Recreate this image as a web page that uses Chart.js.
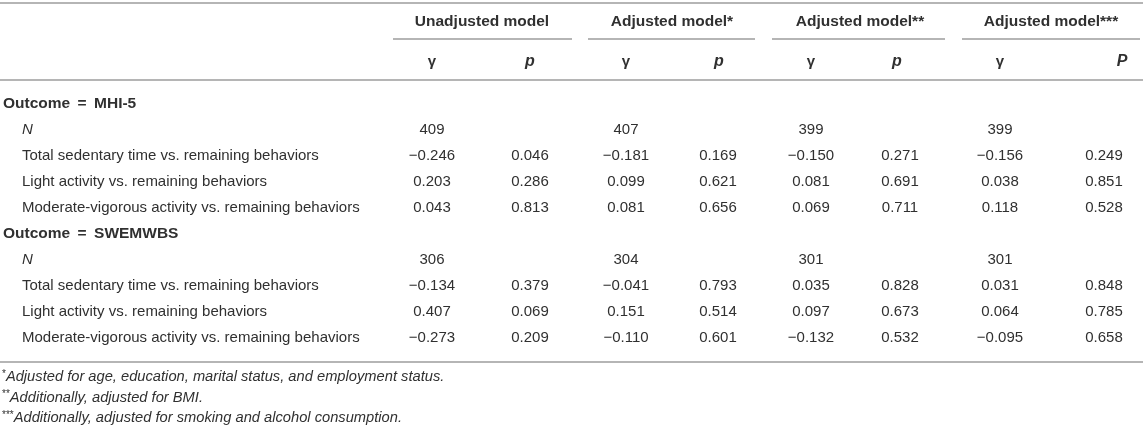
<!DOCTYPE html>
<html>
<head>
<meta charset="utf-8">
<script src="https://cdn.jsdelivr.net/npm/chart.js@4.4.1/dist/chart.umd.min.js"></script>
<style>
    html, body { margin: 0; padding: 0; background: #fff; }
    canvas { display: block; }
</style>
</head>
<body>
<canvas id="table-chart" width="1143" height="429"></canvas>
<script>
    // table content
    var models = ['Unadjusted model', 'Adjusted model*', 'Adjusted model**', 'Adjusted model***'];
    var statHeaders = ['γ', 'p', 'γ', 'p', 'γ', 'p', 'γ', 'P'];
    var outcomes = ['Outcome = MHI-5', 'Outcome = SWEMWBS'];
    var behaviors = [
        'Total sedentary time vs. remaining behaviors',
        'Light activity vs. remaining behaviors',
        'Moderate-vigorous activity vs. remaining behaviors'
    ];

    var mhiN = [409, 407, 399, 399];
    var mhiGamma = [
        [-0.246, -0.181, -0.150, -0.156],
        [0.203, 0.099, 0.081, 0.038],
        [0.043, 0.081, 0.069, 0.118]
    ];
    var mhiP = [
        [0.046, 0.169, 0.271, 0.249],
        [0.286, 0.621, 0.691, 0.851],
        [0.813, 0.656, 0.711, 0.528]
    ];

    var swemwbsN = [306, 304, 301, 301];
    var swemwbsGamma = [
        [-0.134, -0.041, 0.035, 0.031],
        [0.407, 0.151, 0.097, 0.064],
        [-0.273, -0.110, -0.132, -0.095]
    ];
    var swemwbsP = [
        [0.379, 0.793, 0.828, 0.848],
        [0.069, 0.514, 0.673, 0.785],
        [0.209, 0.601, 0.532, 0.658]
    ];

    var footnoteMarks = ['*', '**', '***'];
    var footnotes = [
        'Adjusted for age, education, marital status, and employment status.',
        'Additionally, adjusted for BMI.',
        'Additionally, adjusted for smoking and alcohol consumption.'
    ];

    // layout (x/y scales run in canvas units)
    var gammaX = [432, 626, 811, 1000];
    var pX = [530, 718, 900, 1104];
    var pHeadX = [530, 719, 897, 1122];
    var modelX = [482, 672, 860, 1051];
    var underlines = [[393, 572], [588, 755], [772, 945], [962, 1140]];
    var rules = [3, 80, 362];
    var rowStart = 104, rowStep = 26;
    var fontFamily = "'Liberation Sans', Arial, Helvetica, sans-serif";
    var textColor = '#303030';
    var ruleColor = '#b5b5b5';

    function fmt(v) {
        return v < 0 ? '\u2212' + (-v).toFixed(3) : v.toFixed(3);
    }

    // flatten the body rows
    var bodyRows = [];
    [[mhiN, mhiGamma, mhiP], [swemwbsN, swemwbsGamma, swemwbsP]].forEach(function(block, b) {
        bodyRows.push({ label: outcomes[b], kind: 'outcome', gamma: [], p: [] });
        bodyRows.push({ label: 'N', kind: 'n', gamma: block[0].map(String), p: [] });
        behaviors.forEach(function(name, r) {
            bodyRows.push({ label: name, kind: 'row', gamma: block[1][r].map(fmt), p: block[2][r].map(fmt) });
        });
    });

    function rowY(i) { return rowStart + rowStep * i; }

    var datasets = [];

    // horizontal rules
    rules.forEach(function(y) {
        datasets.push({ type: 'line', data: [{ x: 0, y: y }, { x: 1143, y: y }],
            borderColor: ruleColor, borderWidth: 2, pointRadius: 0 });
    });
    underlines.forEach(function(seg) {
        datasets.push({ type: 'line', data: [{ x: seg[0], y: 39 }, { x: seg[1], y: 39 }],
            borderColor: ruleColor, borderWidth: 2, pointRadius: 0 });
    });

    function textSet(points, texts, font, align, marks) {
        datasets.push({ type: 'scatter', data: points, texts: texts, font: font, align: align,
            marks: marks, pointRadius: 0, borderWidth: 0 });
    }

    // header rows
    textSet(modelX.map(function(x) { return { x: x, y: 22 }; }), models, 'bold 15.5px ' + fontFamily, 'center');
    var headPts = [], headTexts = [];
    gammaX.forEach(function(x, m) {
        headPts.push({ x: x, y: 62 }, { x: pHeadX[m], y: 62 });
        headTexts.push(statHeaders[m * 2], statHeaders[m * 2 + 1]);
    });
    textSet(headPts, headTexts, headTexts.map(function(t) {
        return (t === 'γ' ? 'bold 15px ' : 'italic bold 16px ') + fontFamily;
    }), 'center');

    // row labels
    textSet(bodyRows.map(function(r, i) { return { x: r.kind === 'outcome' ? 3 : 22, y: rowY(i) }; }),
        bodyRows.map(function(r) { return r.label.replace(' = ', ' \u2009=\u2009 '); }),
        bodyRows.map(function(r) {
            return (r.kind === 'outcome' ? 'bold 15.5px ' : r.kind === 'n' ? 'italic 15px ' : '15px ') + fontFamily;
        }), 'left');

    // value columns
    gammaX.forEach(function(x, m) {
        var pts = [], texts = [];
        bodyRows.forEach(function(r, i) {
            if (r.gamma[m] !== undefined) { pts.push({ x: x, y: rowY(i) }); texts.push(r.gamma[m]); }
        });
        textSet(pts, texts, '15px ' + fontFamily, 'center');
    });
    pX.forEach(function(x, m) {
        var pts = [], texts = [];
        bodyRows.forEach(function(r, i) {
            if (r.p[m] !== undefined) { pts.push({ x: x, y: rowY(i) }); texts.push(r.p[m]); }
        });
        textSet(pts, texts, '15px ' + fontFamily, 'center');
    });

    // footnotes, with small raised asterisks
    textSet(footnotes.map(function(t, i) { return { x: 2, y: 377 + 20.5 * i }; }), footnotes,
        'italic 14.7px ' + fontFamily, 'left', footnoteMarks);

    var cellTextPlugin = {
        id: 'cellText',
        afterDatasetsDraw: function(chart) {
            var ctx = chart.ctx;
            ctx.save();
            ctx.fillStyle = textColor;
            ctx.textBaseline = 'middle';
            chart.data.datasets.forEach(function(ds, i) {
                if (!ds.texts) return;
                var meta = chart.getDatasetMeta(i);
                ctx.textAlign = ds.align;
                meta.data.forEach(function(pt, j) {
                    var x = pt.x;
                    if (ds.marks) {
                        ctx.font = '10px ' + fontFamily;
                        ctx.fillText(ds.marks[j], x, pt.y - 3);
                        x += ctx.measureText(ds.marks[j]).width;
                    }
                    ctx.font = Array.isArray(ds.font) ? ds.font[j] : ds.font;
                    ctx.fillText(ds.texts[j], x, pt.y);
                });
            });
            ctx.restore();
        }
    };

    var ctxTable = document.getElementById('table-chart').getContext('2d');
    window.myTable = new Chart(ctxTable, {
        type: 'scatter',
        data: { datasets: datasets },
        options: {
            responsive: false,
            animation: false,
            events: [],
            layout: { padding: 0 },
            plugins: { legend: { display: false }, tooltip: { enabled: false } },
            scales: {
                x: { type: 'linear', min: 0, max: 1143, display: false },
                y: { type: 'linear', min: 0, max: 429, reverse: true, display: false }
            }
        },
        plugins: [cellTextPlugin]
    });
</script>
</body>
</html>
